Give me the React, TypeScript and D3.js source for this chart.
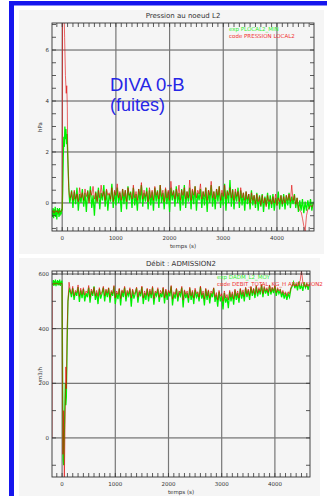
import React from "react";
import * as d3 from "d3";

// ---------- Chart 1 : Pression au noeud L2 ----------
const P_TITLE = "Pression au noeud L2";
const P_YLABEL = "hPa";
const P_XLABEL = "temps (s)";
const P_LEGEND = ["exp PLOCAL2_MIN", "code PRESSION LOCAL2"];
const P_X_TICKS = [0, 1000, 2000, 3000, 4000];
const P_Y_TICKS = [0, 2, 4, 6];
const P_X_DOMAIN = [-190, 4690];
const P_Y_DOMAIN = [-1.1, 7.06];
const P_X_MINOR_STEP = 100;
const P_Y_MINOR_STEP = 0.5;

// transient part [temps, valeur]
const P_EXP_START: [number, number][] = [
  [-190, -0.3], [-180, -0.55], [-170, -0.2], [-160, -0.6], [-150, -0.25], [-140, -0.5],
  [-130, -0.15], [-120, -0.55], [-110, -0.3], [-100, -0.65], [-90, -0.2], [-80, -0.45],
  [-70, -0.25], [-60, -0.55], [-50, -0.2], [-40, -0.5], [-30, -0.3], [-20, -0.45],
  [-10, -0.25], [0, -0.3], [10, 0.5], [20, 1.8], [30, 2.6], [40, 2.2], [50, 3.0],
  [60, 2.5], [70, 2.9], [80, 2.3], [90, 2.7], [100, 2.0], [110, 1.4], [120, 0.8],
  [130, 0.3], [140, 0.0],
];
const P_CODE_START: [number, number][] = [
  [-190, -0.35], [-170, -0.3], [-150, -0.4], [-130, -0.3], [-110, -0.35], [-90, -0.3],
  [-70, -0.4], [-50, -0.3], [-30, -0.35], [-10, -0.3], [0, -0.2], [8, 9], [30, 8],
  [45, 6.5], [60, 5.0], [75, 4.3], [85, 4.6], [95, 3.8], [100, 2.5], [110, 1.5],
  [120, 0.6], [135, 0.3],
];
const P_NOISE_T0 = 150;
const P_NOISE_DT = 25;
const P_EXP_NOISE = [
  0.1, 0.5, -0.2, 0.45, -0.05, 0.6, -0.3, 0.35, 0.0, 0.55,
  -0.15, 0.4, -0.35, 0.5, 0.05, 0.65, -0.2, 0.3, -0.5, 0.45,
  0.0, 0.6, -0.25, 0.4, 0.1, 0.7, -0.15, 0.5, -0.3, 0.35,
  0.05, 0.75, -0.2, 0.45, -0.1, 0.6, 0.0, 0.4, -0.35, 0.55,
  -0.05, 0.5, -0.25, 0.65, 0.1, 0.45, -0.2, 0.6, -0.1, 0.35,
  -0.3, 0.55, 0.0, 0.7, -0.15, 0.4, 0.05, 0.6, -0.25, 0.5,
  -0.1, 0.45, -0.3, 0.6, 0.05, 0.5, -0.2, 0.7, 0.0, 0.4,
  -0.25, 0.55, -0.05, 0.45, -0.35, 0.6, 0.1, 0.5, -0.15, 0.65,
  0.0, 0.4, -0.3, 0.55, -0.1, 0.7, -0.2, 0.45, 0.05, 0.6,
  -0.25, 0.5, -0.05, 0.65, -0.3, 0.4, 0.1, 0.55, -0.2, 0.45,
  -0.1, 0.6, -0.35, 0.5, 0.0, 0.7, -0.15, 0.45, -0.25, 0.55,
  0.05, 0.65, -0.2, 0.4, -0.1, 0.75, -0.3, 0.5, 0.0, 0.9,
  -0.15, 0.55, -0.25, 0.45, 0.05, 0.6, -0.2, 0.5, -0.1, 0.4,
  -0.3, 0.45, -0.05, 0.35, -0.25, 0.5, -0.1, 0.3, -0.2, 0.4,
  -0.3, 0.3, -0.15, 0.35, -0.35, 0.25, -0.1, 0.4, -0.25, 0.3,
  -0.2, 0.35, -0.3, 0.2, -0.1, 0.45, -0.25, 0.3, -0.15, 0.35,
  -0.25, 0.3, -0.1, 0.4, -0.2, 0.25, -0.05, 0.35, -0.2, 0.2,
  -0.35, 0.1, -0.3, 0.15, -0.4, 0.05, -0.3, 0.1, -0.25, 0.15,
  -0.3, 0.05,
];
const P_CODE_NOISE = [
  0.2, 0.45, 0.1, 0.5, 0.15, 0.35, 0.05, 0.6, 0.2, 0.4,
  0.1, 0.55, 0.25, 0.45, 0.0, 0.5, 0.3, 0.65, 0.15, 0.4,
  0.05, 0.5, 0.2, 0.7, 0.25, 0.45, 0.1, 0.55, 0.3, 0.4,
  0.15, 0.6, 0.05, 0.5, 0.3, 0.75, 0.2, 0.45, 0.1, 0.55,
  0.25, 0.5, 0.05, 0.6, 0.3, 0.4, 0.15, 0.7, 0.2, 0.45,
  0.1, 0.55, 0.3, 0.8, 0.15, 0.5, 0.25, 0.45, 0.05, 0.6,
  0.2, 0.5, 0.1, 0.65, 0.3, 0.45, 0.15, 0.7, 0.25, 0.5,
  0.05, 0.6, 0.2, 0.5, 0.1, 0.85, 0.3, 0.45, 0.15, 0.55,
  0.25, 0.7, 0.1, 0.5, 0.3, 0.6, 0.15, 0.45, 0.2, 0.9,
  0.1, 0.55, 0.3, 0.65, 0.2, 0.5, 0.35, 0.75, 0.15, 0.45,
  0.25, 0.6, 0.1, 0.5, 0.3, 0.85, 0.2, 0.45, 0.15, 0.55,
  0.3, 0.65, 0.1, 0.5, 0.25, 0.7, 0.15, 0.45, 0.3, 0.6,
  0.2, 0.5, 0.1, 0.55, 0.25, 0.45, 0.05, 0.6, 0.2, 0.4,
  0.1, 0.45, 0.15, 0.35, 0.0, 0.4, 0.1, 0.3, -0.05, 0.35,
  0.05, 0.25, -0.1, 0.3, 0.0, 0.2, -0.15, 0.3, 0.05, 0.15,
  -0.05, 0.25, 0.0, 0.35, -0.1, 0.2, 0.05, 0.3, -0.05, 0.25,
  0.0, 0.3, 0.1, 0.35, 0.05, 0.7, 0.1, 0.3, -0.05, 0.2,
  -0.2, -0.3, -0.35, -0.6, -0.9, -1.1, -0.5, -0.25, -0.2, -0.1,
  -0.15, -0.05,
];

// ---------- Chart 2 : Débit : ADMISSION2 ----------
const Q_TITLE = "Débit : ADMISSION2";
const Q_YLABEL = "m3/h";
const Q_XLABEL = "temps (s)";
const Q_LEGEND = ["exp DADM_L2_MOY", "code DEBIT_TOTAL_KG_H ADMISSION2"];
const Q_X_TICKS = [0, 1000, 2000, 3000, 4000];
const Q_Y_TICKS = [0, 200, 400, 600];
const Q_X_DOMAIN = [-190, 4660];
const Q_Y_DOMAIN = [-143, 611];
const Q_X_MINOR_STEP = 100;
const Q_Y_MINOR_STEP = 100;

const Q_EXP_START: [number, number][] = [
  [-175, 560], [-165, 578], [-155, 556], [-145, 575], [-135, 560], [-125, 580],
  [-115, 555], [-105, 572], [-95, 562], [-85, 578], [-75, 558], [-65, 574],
  [-55, 560], [-45, 580], [-35, 556], [-25, 572], [-15, 562], [-5, 576], [0, 560],
  [10, 200], [20, -80], [30, -100], [45, 50], [60, 200], [70, 120], [80, 150],
  [95, 350], [110, 500], [125, 530], [140, 545],
];
const Q_CODE_START: [number, number][] = [
  [-190, 0], [-185, 560], [-170, 566], [-150, 562], [-130, 568], [-110, 563],
  [-90, 567], [-70, 562], [-50, 566], [-30, 563], [-10, 567], [0, 562],
  [5, 300], [15, -60], [30, 100], [42, -160], [55, 50], [70, 260], [80, 180],
  [95, 400], [110, 500], [130, 570],
];
const Q_NOISE_T0 = 150;
const Q_NOISE_DT = 25;
const Q_EXP_NOISE = [
  540, 515, 548, 505, 535, 520, 552, 498, 540, 512,
  545, 500, 530, 515, 550, 495, 538, 520, 555, 505,
  532, 490, 545, 510, 528, 550, 500, 540, 515, 548,
  495, 535, 520, 555, 490, 530, 508, 545, 485, 538,
  515, 550, 500, 532, 520, 545, 480, 540, 510, 528,
  548, 495, 535, 518, 552, 490, 530, 505, 545, 500,
  538, 512, 550, 488, 532, 520, 545, 498, 530, 515,
  548, 492, 540, 505, 535, 518, 555, 485, 528, 510,
  545, 500, 532, 520, 550, 478, 538, 512, 530, 495,
  548, 505, 535, 490, 542, 515, 528, 500, 552, 510,
  530, 485, 545, 505, 538, 492, 530, 515, 548, 498,
  525, 480, 535, 500, 520, 470, 530, 495, 515, 475,
  535, 500, 528, 488, 540, 505, 530, 495, 545, 510,
  535, 500, 548, 515, 540, 505, 552, 520, 545, 512,
  555, 518, 545, 525, 560, 515, 550, 528, 545, 520,
  558, 525, 548, 530, 555, 520, 545, 528, 540, 515,
  535, 510, 530, 505, 528, 515, 545, 555, 570, 548,
  565, 540, 572, 545, 560, 538, 570, 550, 562, 542,
  565,
];
const Q_CODE_NOISE = [
  545, 528, 555, 520, 540, 532, 560, 518, 548, 525,
  550, 522, 538, 530, 558, 515, 545, 528, 552, 520,
  540, 518, 550, 525, 535, 555, 520, 545, 530, 550,
  515, 540, 528, 558, 512, 538, 525, 548, 510, 542,
  530, 555, 518, 540, 528, 550, 512, 545, 525, 535,
  552, 515, 540, 528, 556, 512, 538, 522, 548, 518,
  545, 525, 555, 510, 538, 530, 550, 515, 540, 528,
  552, 512, 545, 522, 540, 530, 558, 508, 535, 525,
  548, 515, 538, 530, 555, 505, 542, 525, 538, 512,
  552, 520, 540, 512, 548, 528, 535, 515, 556, 522,
  538, 508, 548, 520, 542, 512, 538, 528, 550, 515,
  532, 505, 540, 518, 528, 500, 538, 512, 525, 505,
  540, 515, 535, 508, 545, 520, 538, 512, 548, 525,
  542, 518, 552, 528, 545, 520, 555, 530, 548, 525,
  558, 530, 550, 535, 562, 528, 555, 538, 550, 532,
  560, 535, 552, 540, 558, 532, 550, 538, 545, 528,
  540, 525, 535, 520, 535, 528, 550, 560, 565, 555,
  562, 555, 568, 575, 612, 570, 560, 552, 565, 555,
  560,
];

const ANNOT_LINES = ["DIVA 0-B", "(fuites)"];

type Pt = { t: number; v: number };
function build(start: [number, number][], noise: number[], t0: number, dt: number): Pt[] {
  return [
    ...start.map(([t, v]) => ({ t, v })),
    ...noise.map((v, i) => ({ t: t0 + i * dt, v })),
  ];
}

type PanelProps = {
  id: string;
  bg: [number, number, number, number];
  plot: { l: number; r: number; t: number; b: number };
  xDomain: number[];
  yDomain: number[];
  xTicks: number[];
  yTicks: number[];
  xMinor: number;
  yMinor: number;
  title: string;
  xLabel: string;
  yLabel: string;
  legend: string[];
  legendX: number;
  exp: Pt[];
  code: Pt[];
};

const FONT = "DejaVu Sans, sans-serif";
const TXT = "#333";

function Panel(p: PanelProps) {
  const x = d3.scaleLinear().domain(p.xDomain).range([p.plot.l, p.plot.r]);
  const y = d3.scaleLinear().domain(p.yDomain).range([p.plot.b, p.plot.t]);
  const line = d3
    .line<Pt>()
    .x((d) => x(d.t))
    .y((d) => y(d.v));
  const xm = d3.range(Math.ceil(p.xDomain[0] / p.xMinor) * p.xMinor, p.xDomain[1], p.xMinor);
  const ym = d3.range(Math.ceil(p.yDomain[0] / p.yMinor) * p.yMinor, p.yDomain[1], p.yMinor);
  const { l, r, t, b } = p.plot;
  const tl = 4;
  const cx = (l + r) / 2;
  const cy = (t + b) / 2;
  return (
    <g>
      <rect x={p.bg[0]} y={p.bg[1]} width={p.bg[2]} height={p.bg[3]} fill="#f5f5f5" />
      <defs>
        <clipPath id={p.id}>
          <rect x={l} y={t} width={r - l} height={b - t} />
        </clipPath>
      </defs>
      {p.yTicks.map((v) => (
        <line key={"gy" + v} x1={l} x2={r} y1={y(v)} y2={y(v)} stroke="#444" strokeWidth={0.9} />
      ))}
      {p.xTicks.map((v) => (
        <line key={"gx" + v} x1={x(v)} x2={x(v)} y1={t} y2={b} stroke="#777" strokeWidth={1.2} />
      ))}
      <g clipPath={`url(#${p.id})`}>
        <path d={line(p.exp) || ""} fill="none" stroke="#00f000" strokeWidth={1.25} />
        <path d={line(p.code) || ""} fill="none" stroke="#e00000" strokeWidth={0.8} strokeOpacity={0.75} />
      </g>
      <rect x={l} y={t} width={r - l} height={b - t} fill="none" stroke="#333" strokeWidth={0.9} />
      {xm.map((v) => (
        <g key={"xm" + v}>
          <line x1={x(v)} x2={x(v)} y1={b} y2={b - tl} stroke="#333" strokeWidth={0.8} />
          <line x1={x(v)} x2={x(v)} y1={t} y2={t + tl} stroke="#333" strokeWidth={0.8} />
        </g>
      ))}
      {ym.map((v) => (
        <g key={"ym" + v}>
          <line x1={l} x2={l + tl} y1={y(v)} y2={y(v)} stroke="#333" strokeWidth={0.8} />
          <line x1={r} x2={r - tl} y1={y(v)} y2={y(v)} stroke="#333" strokeWidth={0.8} />
        </g>
      ))}
      {p.xTicks.map((v) => (
        <text key={"xl" + v} x={x(v)} y={b + 9} fontSize={5.5} fontFamily={FONT} fill={TXT} textAnchor="middle">
          {v}
        </text>
      ))}
      {p.yTicks.map((v) => (
        <text key={"yl" + v} x={l - 3} y={y(v) + 2} fontSize={5.5} fontFamily={FONT} fill={TXT} textAnchor="end">
          {v}
        </text>
      ))}
      <text x={cx} y={b + 17} fontSize={5.5} fontFamily={FONT} fill={TXT} textAnchor="middle">
        {p.xLabel}
      </text>
      <text
        x={0}
        y={0}
        transform={`translate(${l - 10},${cy}) rotate(-90)`}
        fontSize={5.5}
        fontFamily={FONT}
        fill={TXT}
        textAnchor="middle"
      >
        {p.yLabel}
      </text>
      <text x={cx} y={t - 5} fontSize={7} fontFamily={FONT} fill={TXT} textAnchor="middle">
        {p.title}
      </text>
      <text x={p.legendX} y={t + 8} fontSize={5.5} fontFamily={FONT} fill="#30f030">
        {p.legend[0]}
      </text>
      <text x={p.legendX} y={t + 15} fontSize={5.5} fontFamily={FONT} fill="#f03030">
        {p.legend[1]}
      </text>
    </g>
  );
}

export default function App() {
  const p1exp = build(P_EXP_START, P_EXP_NOISE, P_NOISE_T0, P_NOISE_DT);
  const p1code = build(P_CODE_START, P_CODE_NOISE, P_NOISE_T0, P_NOISE_DT);
  const q1exp = build(Q_EXP_START, Q_EXP_NOISE, Q_NOISE_T0, Q_NOISE_DT);
  const q1code = build(Q_CODE_START, Q_CODE_NOISE, Q_NOISE_T0, Q_NOISE_DT);
  return (
    <svg
      width={327}
      height={496}
      style={{ position: "absolute", left: 0, top: 0, background: "#fff" }}
    >
      <rect x={0} y={0} width={327} height={496} fill="#fff" />
      <rect x={9} y={1} width={318} height={4.5} fill="#1616ee" />
      <rect x={9} y={1} width={5} height={495} fill="#1616ee" />
      <Panel
        id="clipP"
        bg={[19, 10, 305, 244]}
        plot={{ l: 52, r: 314, t: 23, b: 231 }}
        xDomain={P_X_DOMAIN}
        yDomain={P_Y_DOMAIN}
        xTicks={P_X_TICKS}
        yTicks={P_Y_TICKS}
        xMinor={P_X_MINOR_STEP}
        yMinor={P_Y_MINOR_STEP}
        title={P_TITLE}
        xLabel={P_XLABEL}
        yLabel={P_YLABEL}
        legend={P_LEGEND}
        legendX={229}
        exp={p1exp}
        code={p1code}
      />
      <Panel
        id="clipQ"
        bg={[19, 258, 301, 238]}
        plot={{ l: 52, r: 310, t: 271, b: 477 }}
        xDomain={Q_X_DOMAIN}
        yDomain={Q_Y_DOMAIN}
        xTicks={Q_X_TICKS}
        yTicks={Q_Y_TICKS}
        xMinor={Q_X_MINOR_STEP}
        yMinor={Q_Y_MINOR_STEP}
        title={Q_TITLE}
        xLabel={Q_XLABEL}
        yLabel={Q_YLABEL}
        legend={Q_LEGEND}
        legendX={217}
        exp={q1exp}
        code={q1code}
      />
      <text x={110} y={91} fontSize={18.5} fontFamily="Liberation Sans, Arial, sans-serif" fill="#2626e6">
        {ANNOT_LINES[0]}
      </text>
      <text x={110} y={111} fontSize={18} fontFamily="Liberation Sans, Arial, sans-serif" fill="#2626e6">
        {ANNOT_LINES[1]}
      </text>
    </svg>
  );
}
